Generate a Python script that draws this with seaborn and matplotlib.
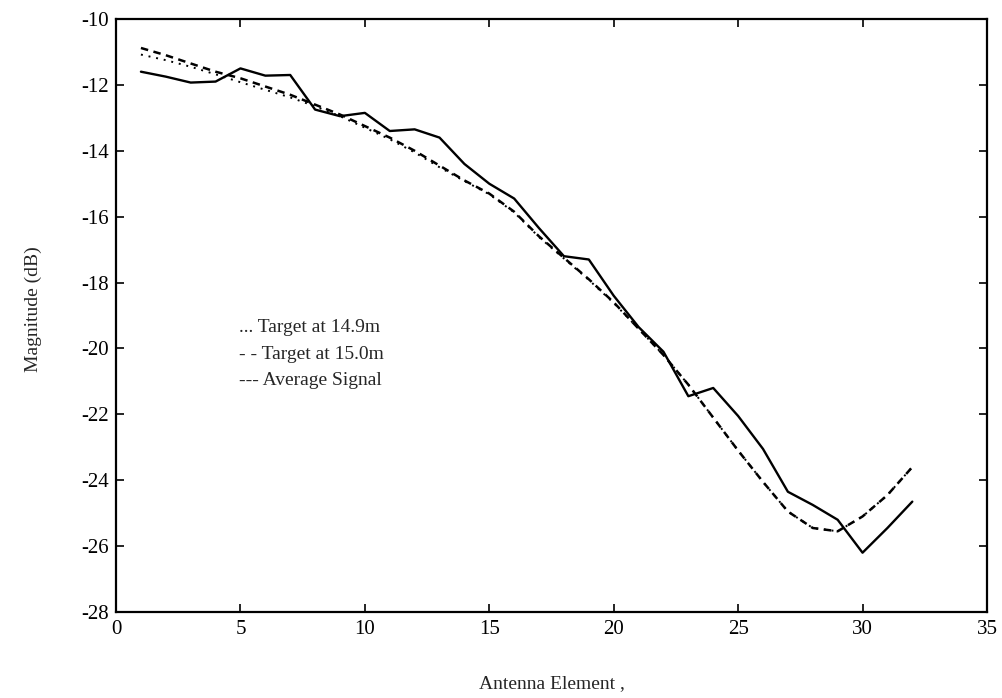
import numpy as np
import pandas as pd
import matplotlib
matplotlib.use("Agg")
import matplotlib.pyplot as plt
import seaborn as sns

elements = list(range(1, 33))
average_signal = [-11.6, -11.75, -11.93, -11.9, -11.5, -11.72, -11.7, -12.75, -12.95, -12.85,
                  -13.4, -13.35, -13.6, -14.4, -15.0, -15.45, -16.35, -17.2, -17.3, -18.4,
                  -19.35, -20.1, -21.45, -21.2, -22.05, -23.05, -24.35, -24.75, -25.2, -26.2,
                  -25.45, -24.65]
target_150 = [-10.88, -11.1, -11.35, -11.6, -11.8, -12.05, -12.3, -12.6, -12.9, -13.25,
              -13.6, -14.0, -14.45, -14.9, -15.3, -15.85, -16.6, -17.25, -17.9, -18.6,
              -19.4, -20.2, -21.1, -22.1, -23.1, -24.05, -24.95, -25.45, -25.55, -25.1,
              -24.45, -23.6]
target_149 = [-11.08, -11.25, -11.45, -11.68, -11.92, -12.15, -12.38, -12.65, -12.95, -13.3,
              -13.65, -14.05, -14.5, -14.92, -15.32, -15.87, -16.62, -17.27, -17.92, -18.62,
              -19.4, -20.2, -21.1, -22.1, -23.1, -24.05, -24.95, -25.45, -25.55, -25.1,
              -24.45, -23.6]
legend_lines = ["... Target at 14.9m", "- - Target at 15.0m", "--- Average Signal"]
x_ticks = [0, 5, 10, 15, 20, 25, 30, 35]
y_ticks = [-28, -26, -24, -22, -20, -18, -16, -14, -12, -10]

sns.set_theme(style="ticks")
plt.rcParams['font.family'] = ['Liberation Serif', 'DejaVu Serif']
plt.rcParams['axes.unicode_minus'] = False

df = pd.DataFrame({"element": elements, "avg": average_signal,
                   "t150": target_150, "t149": target_149})

fig = plt.figure(figsize=(10.03, 6.98), dpi=100)
ax = fig.add_axes([0.1157, 0.1232, 0.8683, 0.8496])

sns.lineplot(data=df, x="element", y="t149", ax=ax, color="black",
             linewidth=1.4, linestyle=(0, (1, 3)))
sns.lineplot(data=df, x="element", y="t150", ax=ax, color="black",
             linewidth=1.8, linestyle=(0, (3, 2.2)))
sns.lineplot(data=df, x="element", y="avg", ax=ax, color="black",
             linewidth=1.7)

ax.set_xlim(0, 35)
ax.set_ylim(-28, -10)
ax.set_xticks(x_ticks)
ax.set_yticks(y_ticks)
ax.tick_params(direction="in", length=6, width=1.2, top=True, right=True,
               labelsize=15, colors="black")
ax.tick_params(axis="x", pad=6)
ax.tick_params(axis="y", pad=5)
for s in ax.spines.values():
    s.set_linewidth(1.6)
    s.set_color("black")

ax.set_xlabel("Antenna Element ,", fontsize=14, labelpad=26)
ax.set_ylabel("Magnitude (dB)", fontsize=14)
ax.yaxis.set_label_coords(-0.085, 0.51)

for i, t in enumerate(legend_lines):
    ax.text(4.95, -19.37 - 0.8 * i, t, fontsize=14, va="center", ha="left")

fig.savefig("out.png", dpi=100)
